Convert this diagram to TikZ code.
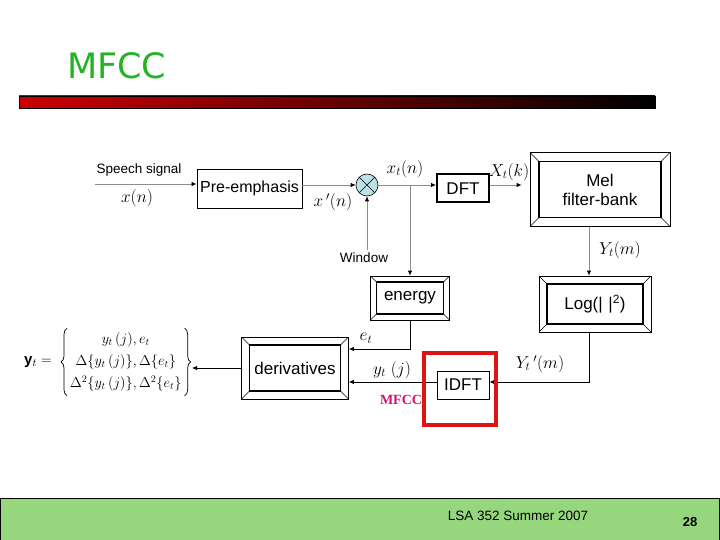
\documentclass[tikz,border=0pt]{standalone}
\usepackage{amsmath}
\usepackage{fontspec}
\setmainfont{Liberation Sans}
\newfontfamily\titlefont{DejaVu Sans}
\newfontfamily\seriffont{Liberation Serif}
\usetikzlibrary{calc,arrows.meta,decorations.pathreplacing}
\definecolor{titlegreen}{RGB}{34,180,34}
\definecolor{barred}{RGB}{204,0,0}
\definecolor{mixblue}{RGB}{190,225,230}
\definecolor{boxred}{RGB}{220,20,20}
\definecolor{mfccmag}{RGB}{210,20,110}
\definecolor{footgreen}{RGB}{150,215,125}
\definecolor{linegray}{RGB}{140,140,140}
\begin{document}
\begin{tikzpicture}[x=1pt,y=-1pt,
  lbl/.style={font=\fontsize{13.5}{15}\selectfont, inner sep=0pt},
  mlbl/.style={font=\fontsize{17}{19}\selectfont, inner sep=0pt},
  plainbox/.style={draw, line width=0.9pt, fill=white, inner sep=0pt, font=\fontsize{17}{19}\selectfont},
  bevel/.style={draw, line width=0.7pt, fill=white, inner sep=0pt, align=center,
    font=\fontsize{17}{19}\selectfont,
    path picture={
      \draw[line width=1.1pt] ([xshift=#1,yshift=-#1]path picture bounding box.north west) rectangle ([xshift=-#1,yshift=#1]path picture bounding box.south east);
      \draw[line width=0.6pt] (path picture bounding box.north west) -- ++(#1,-#1)
        (path picture bounding box.north east) -- ++(-#1,-#1)
        (path picture bounding box.south west) -- ++(#1,#1)
        (path picture bounding box.south east) -- ++(-#1,#1);
    }},
  conn/.style={line width=0.8pt, -{Latex[length=5pt,width=4.5pt,color=black]}},
  bigbrace/.style={decorate, decoration={brace, amplitude=6pt}, line width=0.7pt},
]
\useasboundingbox (0,0) rectangle (720,540);

% title and bar
\node[anchor=west, inner sep=0pt, text=titlegreen, font=\titlefont\fontsize{35}{40}\selectfont] (title) at (67,66) {MFCC};
\shade[left color=barred, right color=black] (19,96) rectangle (655,108);
\draw[line width=0.6pt] (19,96) rectangle (655,108);

% boxes
\node[plainbox, minimum width=105pt, minimum height=39pt, font=\fontsize{16}{18}\selectfont] (prem) at (249.5,188.5) {Pre-emphasis};
\node[circle, draw, line width=0.6pt, fill=mixblue, minimum size=22pt, inner sep=0pt,
  path picture={\draw[line width=0.6pt] (path picture bounding box.north west) -- (path picture bounding box.south east)
  (path picture bounding box.north east) -- (path picture bounding box.south west);}] (mix) at (367,185) {};
\node[plainbox, line width=2pt, minimum width=52pt, minimum height=28pt] (dft) at (463,188.5) {DFT};
\node[bevel=9pt, minimum width=140pt, minimum height=74pt] (mel) at (600,189.5) {Mel\\filter-bank};
\node[bevel=8pt, minimum width=112pt, minimum height=56pt] (log) at (595,304) {Log(|\,\,|\textsuperscript{2})};
\node[bevel=6pt, minimum width=79pt, minimum height=44pt] (energy) at (410,298) {energy};
\node[bevel=8pt, minimum width=107pt, minimum height=62pt] (deriv) at (295,368) {derivatives};
\node[plainbox, minimum width=52pt, minimum height=28pt] (idft) at (463,385) {IDFT};

% labels
\node[lbl] (speech) at (139,170) {Speech signal};
\node[lbl] (window) at (364,258) {Window};
\node[mlbl] (lxn) at (137,198) {$x(n)$};
\node[mlbl] (lxpn) at (333,202) {$x\,'(n)$};
\node[mlbl] (lxtn) at (405,169) {$x_t(n)$};
\node[mlbl] (lXtk) at (509,172) {$X_t(k)$};
\node[mlbl] (lYtm) at (620,250) {$Y_t(m)$};
\node[mlbl] (let) at (366,338) {$e_t$};
\node[mlbl] (lytj) at (392,370) {$y_t\;(j)$};
\node[mlbl] (lYpm) at (540,364) {$Y_t\,'(m)$};
\node[inner sep=0pt, text=mfccmag, font=\seriffont\bfseries\fontsize{14}{16}\selectfont] (mfcclbl) at (401,400) {MFCC};

% equation
\node[anchor=west, inner sep=0pt, font=\fontsize{15}{17}\selectfont] (eqlhs) at (24,362) {$\mathbf{y}_t =$};
\node[anchor=west, inner sep=0pt, font=\fontsize{14.5}{17}\selectfont] (eqrows) at (70,362)
 {$\begin{array}{@{}c@{}} y_t\,(j), e_t\\[5pt] \Delta\{y_t\,(j)\}, \Delta\{e_t\}\\[5pt] \Delta^2\{y_t\,(j)\}, \Delta^2\{e_t\}\end{array}$};
\draw[bigbrace] ([xshift=-3pt,yshift=-3pt]eqrows.south west) -- ([xshift=-3pt,yshift=3pt]eqrows.north west);
\draw[bigbrace] ([xshift=3pt,yshift=3pt]eqrows.north east) -- ([xshift=3pt,yshift=-3pt]eqrows.south east);

% connectors
\coordinate (sin) at (95,184);
\coordinate (win) at (367,250);
\coordinate (vx) at (589,0);
\coordinate (yrow) at (0,382);
\coordinate (erow) at (0,349);
\coordinate (eqend) at (192,368);
\draw[conn, draw=linegray] (sin) -- (sin -| prem.west);
\draw[conn, draw=linegray] (mix.west -| prem.east) -- (mix.west);
\draw[conn, draw=linegray] (win) -- (mix.south);
\draw[conn, draw=linegray] (mix.east) -- (mix.east -| dft.west);
\draw[conn, draw=linegray] (mix.east -| energy.north) -- (energy.north);
\draw[conn, draw=linegray, shorten >=8pt] (mix.east -| dft.east) -- (mix.east -| mel.west);
\draw[conn, draw=linegray] (mel.south -| vx) -- (log.north -| vx);
\draw[conn] (log.south -| vx) |- (idft.east |- yrow);
\draw[conn] (idft.west |- yrow) -- (deriv.east |- yrow);
\draw[conn] (energy.south) |- (deriv.east |- erow);
\draw[conn] (deriv.west) -- (eqend);

% highlight
\node[draw=boxred, line width=3.5pt, minimum width=72pt, minimum height=72pt, inner sep=0pt] (redbox) at (460,389) {};

% footer
\path[fill=footgreen, draw=black, line width=0.8pt] (0.4,498) rectangle (719.6,540);
\node[inner sep=0pt, font=\fontsize{13.5}{15}\selectfont] (foot) at (518,516) {LSA 352 Summer 2007};
\node[inner sep=0pt, font=\bfseries\fontsize{13}{15}\selectfont] (page) at (690,522) {28};
\end{tikzpicture}
\end{document}
